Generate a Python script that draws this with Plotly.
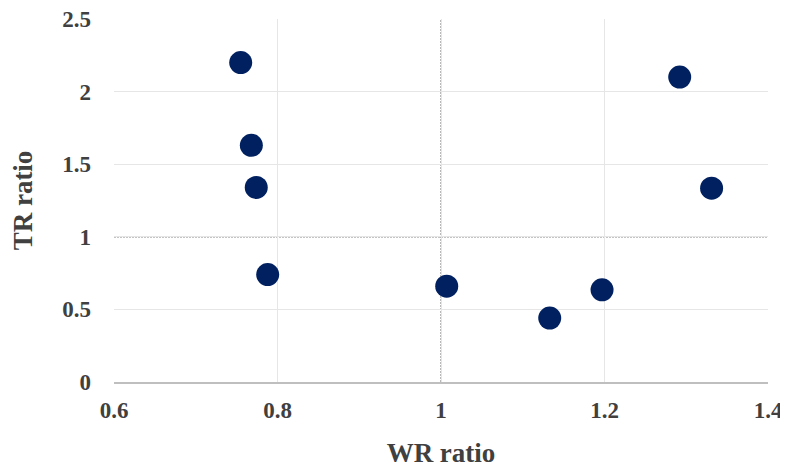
import plotly.graph_objects as go

wr_ratio = [0.755, 0.768, 0.774, 0.788, 1.007, 1.133, 1.197, 1.292, 1.331]
tr_ratio = [2.20, 1.63, 1.34, 0.74, 0.66, 0.44, 0.635, 2.10, 1.335]
x_ticks = [0.6, 0.8, 1.0, 1.2, 1.4]
x_tick_labels = ["0.6", "0.8", "1", "1.2", "1.4"]
y_ticks = [0, 0.5, 1.0, 1.5, 2.0, 2.5]
y_tick_labels = ["0", "0.5", "1", "1.5", "2", "2.5"]

font_family = "Liberation Serif, Times New Roman, serif"

fig = go.Figure()
fig.add_trace(go.Scatter(
    x=wr_ratio, y=tr_ratio, mode="markers",
    marker=dict(size=23, color="#002060", line=dict(width=0)),
    showlegend=False,
))

fig.add_shape(type="line", xref="x", yref="paper", x0=1, x1=1, y0=0, y1=1,
              line=dict(color="#8a8a8a", width=1.2, dash="2px,1px"), layer="below")
fig.add_shape(type="line", xref="paper", yref="y", x0=0, x1=1, y0=1, y1=1,
              line=dict(color="#8a8a8a", width=1.2, dash="2px,1px"), layer="below")

# page body has an 8px margin, so the figure is sized/offset to compensate
fig.update_layout(
    width=780, height=464,
    margin=dict(l=106, r=20, t=11, b=90),
    paper_bgcolor="white", plot_bgcolor="white",
    font=dict(family=font_family, color="#404040"),
)
fig.update_xaxes(
    range=[0.6, 1.4], tickvals=x_ticks, ticktext=x_tick_labels,
    tickfont=dict(size=23, family=font_family, color="#404040", weight="bold"),
    showgrid=True, gridcolor="#e6e6e6", gridwidth=1,
    zeroline=False, showline=True, linecolor="#bfbfbf", linewidth=2,
    ticks="", ticklabelstandoff=6, automargin=False, ticklabeloverflow="allow",
    title=dict(text="<b>WR ratio</b>", font=dict(size=27, family=font_family, color="#404040"), standoff=22),
)
fig.update_yaxes(
    range=[0, 2.5], tickvals=y_ticks, ticktext=y_tick_labels,
    tickfont=dict(size=23, family=font_family, color="#404040", weight="bold"),
    showgrid=True, gridcolor="#e6e6e6", gridwidth=1,
    zeroline=False, showline=False,
    ticks="", ticklabelstandoff=22, automargin=False, ticklabeloverflow="allow",
    title=dict(text="<b>TR ratio</b>", font=dict(size=27, family=font_family, color="#404040"), standoff=22),
)

fig.write_html("out.html")
